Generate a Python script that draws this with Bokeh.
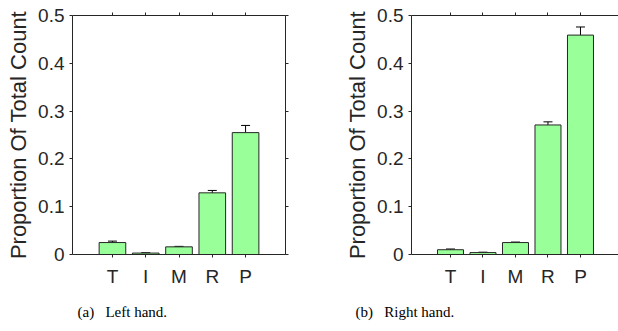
from bokeh.plotting import figure
from bokeh.models import (ColumnDataSource, Whisker, TeeHead, FixedTicker, LinearAxis,
                          Range1d, Title)
from bokeh.layouts import row
from bokeh.embed import file_html
from bokeh.resources import INLINE

# ---- data ----
fingers = ["T", "I", "M", "R", "P"]
left_mean = [0.025, 0.003, 0.016, 0.129, 0.255]
left_err = [0.003, 0.0006, 0.001, 0.005, 0.015]
right_mean = [0.010, 0.004, 0.025, 0.271, 0.459]
right_err = [0.0015, 0.0008, 0.001, 0.0065, 0.017]
y_ticks = [0, 0.1, 0.2, 0.3, 0.4, 0.5]
y_tick_labels = ["0", "0.1", "0.2", "0.3", "0.4", "0.5"]
captions = ["(a)\u2002 Left hand.", "(b)\u2002 Right hand."]

TXT = "#262626"
SANS = "Liberation Sans"
SERIF = "Liberation Serif"


def style_axis(ax, labels=True):
    ax.axis_line_color = TXT
    ax.axis_line_width = 1
    ax.major_tick_line_color = TXT
    ax.major_tick_in = 0
    ax.major_tick_out = 3
    ax.minor_tick_line_color = None
    ax.major_label_text_font = SANS
    if labels:
        ax.major_label_text_color = TXT
        ax.major_label_text_font_size = "19px"
    else:
        ax.major_label_text_color = None
        ax.major_label_text_font_size = "1px"
        ax.major_label_standoff = 0


def make_panel(means, errs, caption, width, x_end, border_left, border_right,
               cap_offset, right_axis):
    pos = list(range(1, len(fingers) + 1))
    src = ColumnDataSource(dict(
        x=pos, top=means,
        upper=[m + e for m, e in zip(means, errs)],
        lower=[m - e for m, e in zip(means, errs)],
    ))
    p = figure(width=width, height=331, output_backend="svg", toolbar_location=None,
               x_range=Range1d(-0.2, x_end), y_range=Range1d(0, 0.5),
               min_border_left=border_left, min_border_right=border_right,
               min_border_top=15, min_border_bottom=75,
               x_axis_location=None, y_axis_location=None)
    p.grid.visible = False
    p.outline_line_color = None
    p.background_fill_color = "white"
    p.border_fill_color = "white"

    p.vbar(x="x", top="top", width=0.8, source=src, fill_color="#99FF99",
           line_color="#262626", line_width=1)
    p.add_layout(Whisker(base="x", upper="upper", lower="lower", source=src,
                         dimension="height", line_color="black", line_width=1,
                         upper_head=TeeHead(size=9, line_color="black"),
                         lower_head=TeeHead(size=9, line_color="black")))

    # bottom axis
    xb = LinearAxis(ticker=FixedTicker(ticks=pos))
    xb.major_label_overrides = {k: v for k, v in zip(pos, fingers)}
    style_axis(xb)
    xb.major_label_standoff = 8
    p.add_layout(xb, "below")
    # caption under the panel
    p.add_layout(Title(text=caption, align="left", offset=cap_offset, standoff=24,
                       text_font=SERIF, text_font_size="15px",
                       text_font_style="normal", text_color="black"), "below")
    # top axis (ticks only)
    xt = LinearAxis(ticker=FixedTicker(ticks=pos))
    style_axis(xt, labels=False)
    p.add_layout(xt, "above")
    # left axis
    yl = LinearAxis(ticker=FixedTicker(ticks=y_ticks),
                    axis_label="Proportion Of Total Count")
    yl.major_label_overrides = {k: v for k, v in zip(y_ticks, y_tick_labels)}
    style_axis(yl)
    yl.major_label_standoff = 5
    yl.axis_label_standoff = 4
    yl.axis_label_text_font = SANS
    yl.axis_label_text_font_size = "22px"
    yl.axis_label_text_font_style = "normal"
    yl.axis_label_text_color = TXT
    p.add_layout(yl, "left")
    if right_axis:
        yr = LinearAxis(ticker=FixedTicker(ticks=y_ticks))
        style_axis(yr, labels=False)
        p.add_layout(yr, "right")
    return p


p1 = make_panel(left_mean, left_err, captions[0], 342, 6.2, 72, 57, 5, True)
p2 = make_panel(right_mean, right_err, captions[1], 276, 6.17, 64, 0, -56, False)

layout = row(p1, p2)
with open("out.html", "w") as f:
    f.write(file_html(layout, INLINE))
